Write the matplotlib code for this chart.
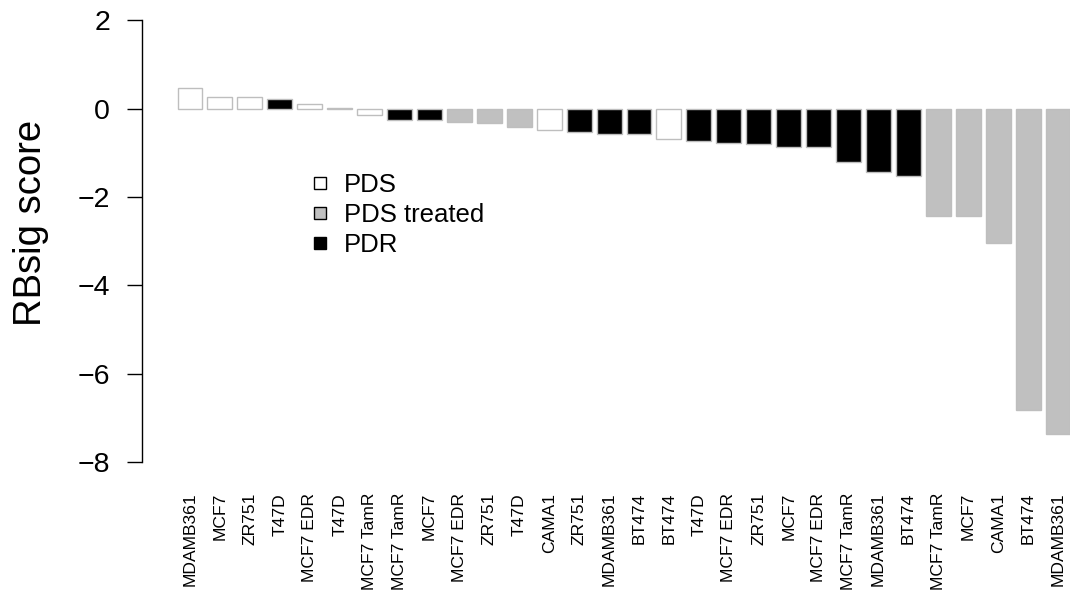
import matplotlib
matplotlib.use("Agg")
import matplotlib.pyplot as plt
from matplotlib.lines import Line2D
import numpy as np

plt.rcParams['font.family'] = ['Liberation Sans', 'DejaVu Sans']

labels = ["MDAMB361", "MCF7", "ZR751", "T47D", "MCF7 EDR", "T47D", "MCF7 TamR",
          "MCF7 TamR", "MCF7", "MCF7 EDR", "ZR751", "T47D", "CAMA1", "ZR751",
          "MDAMB361", "BT474", "BT474", "T47D", "MCF7 EDR", "ZR751", "MCF7",
          "MCF7 EDR", "MCF7 TamR", "MDAMB361", "BT474", "MCF7 TamR", "MCF7",
          "CAMA1", "BT474", "MDAMB361"]
groups = ["PDS", "PDS", "PDS", "PDR", "PDS", "PDS", "PDS",
          "PDR", "PDR", "PDS treated", "PDS treated", "PDS treated", "PDS", "PDR",
          "PDR", "PDR", "PDS", "PDR", "PDR", "PDR", "PDR",
          "PDR", "PDR", "PDR", "PDR", "PDS treated", "PDS treated",
          "PDS treated", "PDS treated", "PDS treated"]
scores = [0.46, 0.27, 0.27, 0.22, 0.10, 0.01, -0.15,
          -0.26, -0.26, -0.30, -0.32, -0.42, -0.48, -0.52,
          -0.58, -0.58, -0.69, -0.73, -0.77, -0.80, -0.88,
          -0.88, -1.22, -1.43, -1.53, -2.43, -2.43,
          -3.05, -6.82, -7.36]
legend_labels = ["PDS", "PDS treated", "PDR"]
group_colors = {"PDS": "white", "PDS treated": "#c0c0c0", "PDR": "black"}

W, H = 1070, 592
fig = plt.figure(figsize=(W / 100, H / 100), dpi=100)
ax = fig.add_axes([142 / W, (H - 475.4) / H, 1 - 142 / W, (475.4 - 15.7) / H])

x = np.arange(len(scores))
ax.bar(x, scores, width=0.833, color=[group_colors[g] for g in groups],
       edgecolor="#bebebe", linewidth=1.0)

ax.set_xlim(-1.604, 29.40)
ax.set_ylim(-8.3, 2.1)

for s in ["top", "right", "bottom"]:
    ax.spines[s].set_visible(False)
ax.spines["left"].set_bounds(-8, 2)
ax.spines["left"].set_linewidth(1.0)

ax.set_yticks([-8, -6, -4, -2, 0, 2])
ax.set_yticklabels(["\u22128", "\u22126", "\u22124", "\u22122", "0", "2"])
ax.tick_params(axis="y", length=11, width=1.0, pad=12, labelsize=20.5)
ax.set_xticks(x)
ax.set_xticklabels(labels, rotation=90, fontsize=12.6, va="top", ha="center")
ax.tick_params(axis="x", length=0, pad=12.5)

fig.text(31 / W, 1 - 223 / H, "RBsig score", rotation=90, fontsize=27.5,
         ha="center", va="center")

handles = [Line2D([], [], marker="s", linestyle="none", markersize=8,
                  markerfacecolor=group_colors[g], markeredgecolor="black",
                  markeredgewidth=1.0) for g in legend_labels]
fig.legend(handles, legend_labels, loc="upper left",
           bbox_to_anchor=(307 / W, 1 - 173 / H), frameon=False, fontsize=18.5,
           handlelength=1.0, handletextpad=0.45, labelspacing=0.23,
           borderpad=0, borderaxespad=0)

fig.savefig("out.png", dpi=100)
